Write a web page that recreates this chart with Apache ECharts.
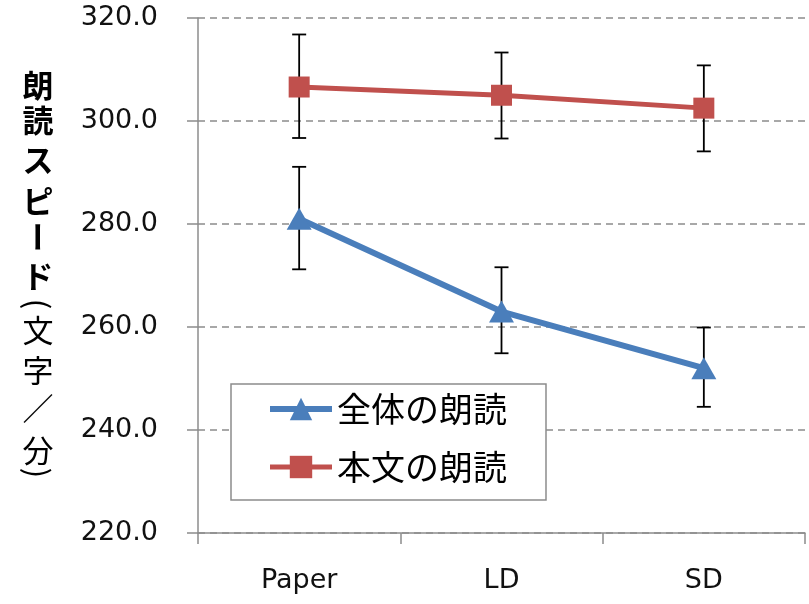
<!DOCTYPE html>
<html>
<head>
<meta charset="utf-8">
<script src="https://cdn.jsdelivr.net/npm/echarts@6/dist/echarts.min.js"></script>
<style>
html,body{margin:0;padding:0;background:#fff;}
#chart{width:809px;height:604px;}
</style>
</head>
<body>
<div id="chart"></div>
<script>
const categories = ['Paper', 'LD', 'SD'];
const seriesNames = ['全体の朗読', '本文の朗読'];
const wholeValues = [281.0, 263.0, 252.0];
const wholeLow = [271.2, 254.9, 244.5];
const wholeHigh = [291.1, 271.6, 259.9];
const bodyValues = [306.6, 305.0, 302.5];
const bodyLow = [296.7, 296.6, 294.1];
const bodyHigh = [316.8, 313.3, 310.8];
// y-axis title, written vertically: 朗読スピード(文字／分)
const yTitleChars = ['朗', '読', 'ス', 'ピ', 'ー', 'ド', '(', '文', '字', '／', '分', ')'];

const chart = echarts.init(document.getElementById('chart'));
const cjk = 'Noto Sans CJK JP';

function errData(low, high) {
  return categories.map((c, i) => [i, low[i], high[i]]);
}
function errRender(params, api) {
  const x = api.value(0);
  const lo = api.coord([x, api.value(1)]);
  const hi = api.coord([x, api.value(2)]);
  const half = 7;
  const st = { stroke: '#000', lineWidth: 1.8 };
  return {
    type: 'group',
    children: [
      { type: 'line', shape: { x1: hi[0], y1: hi[1], x2: lo[0], y2: lo[1] }, style: st },
      { type: 'line', shape: { x1: hi[0] - half, y1: hi[1], x2: hi[0] + half, y2: hi[1] }, style: st },
      { type: 'line', shape: { x1: lo[0] - half, y1: lo[1], x2: lo[0] + half, y2: lo[1] }, style: st }
    ]
  };
}

// vertical layout of the title column (layout only)
const titleX = 38;
const titleY = [85, 120, 160, 201, 237, 276, 304, 330, 370, 408, 450, 473];
const rotatedChars = ['ー', '(', ')'];
const boldChars = ['朗', '読', 'ス', 'ピ', 'ー', 'ド'];
const titleGraphics = yTitleChars.map((ch, i) => ({
  type: 'text',
  x: titleX,
  y: titleY[i],
  rotation: rotatedChars.includes(ch) ? -Math.PI / 2 : 0,
  style: {
    text: ch,
    fontFamily: cjk,
    fontWeight: boldChars.includes(ch) ? 'bold' : 'normal',
    fontSize: 31,
    fill: '#000',
    textAlign: 'center',
    textVerticalAlign: 'middle'
  }
}));

const option = {
  animation: false,
  backgroundColor: '#fff',
  grid: { left: 198, right: 4, top: 18, bottom: 71 },
  legend: {
    orient: 'vertical',
    left: 231,
    top: 384,
    padding: [8, 39, 16, 36],
    itemGap: 24,
    itemWidth: 62,
    itemHeight: 28,
    borderColor: '#8c8c8c',
    borderWidth: 1.5,
    backgroundColor: '#fff',
    textStyle: { fontFamily: cjk, fontSize: 34, color: '#000', lineHeight: 34 },
    data: [
      { name: seriesNames[0], lineStyle: { width: 6 } },
      { name: seriesNames[1], lineStyle: { width: 5 } }
    ]
  },
  xAxis: {
    type: 'category',
    data: categories,
    axisLine: { lineStyle: { color: '#8c8c8c', width: 1.5 } },
    axisTick: { show: true, length: 11, lineStyle: { color: '#8c8c8c', width: 1.5 } },
    axisLabel: { margin: 34, fontFamily: 'DejaVu Sans', fontSize: 27, color: '#111' },
    splitLine: { show: false }
  },
  yAxis: {
    type: 'value',
    min: 220,
    max: 320,
    interval: 20,
    axisLine: { show: true, lineStyle: { color: '#8c8c8c', width: 1.5 } },
    axisTick: { show: true, length: 11, lineStyle: { color: '#8c8c8c', width: 1.5 } },
    axisLabel: { margin: 40, fontFamily: 'DejaVu Sans', fontSize: 27, color: '#111', formatter: v => v.toFixed(1) },
    splitLine: { show: true, lineStyle: { color: '#8c8c8c', width: 1.5, type: [7, 5] } }
  },
  graphic: titleGraphics,
  series: [
    {
      type: 'custom',
      name: 'err1',
      renderItem: errRender,
      data: errData(wholeLow, wholeHigh),
      z: 1,
      silent: true
    },
    {
      type: 'custom',
      name: 'err2',
      renderItem: errRender,
      data: errData(bodyLow, bodyHigh),
      z: 1,
      silent: true
    },
    {
      name: seriesNames[0],
      type: 'line',
      data: wholeValues,
      symbol: 'triangle',
      symbolSize: [25, 22],
      color: '#4a7ebb',
      lineStyle: { color: '#4a7ebb', width: 6 },
      itemStyle: { color: '#4a7ebb' },
      z: 3
    },
    {
      name: seriesNames[1],
      type: 'line',
      data: bodyValues,
      symbol: 'rect',
      symbolSize: 21,
      color: '#c0504d',
      lineStyle: { color: '#c0504d', width: 5 },
      itemStyle: { color: '#c0504d' },
      z: 3
    }
  ]
};
chart.setOption(option);
</script>
</body>
</html>
